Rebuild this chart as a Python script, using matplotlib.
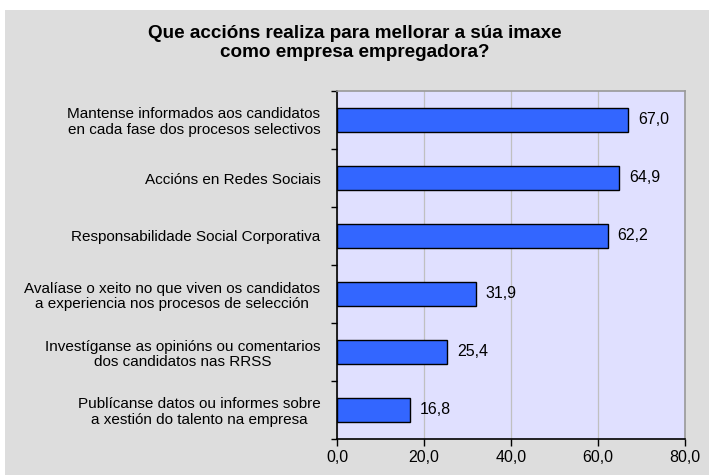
import matplotlib.pyplot as plt
from matplotlib.patches import Rectangle
from matplotlib.ticker import FuncFormatter, MultipleLocator

plt.rcParams["font.family"] = ["Liberation Sans", "DejaVu Sans"]

categories = [
    "Mantense informados aos candidatos\nen cada fase dos procesos selectivos",
    "Accións en Redes Sociais",
    "Responsabilidade Social Corporativa",
    "Avalíase o xeito no que viven os candidatos\na experiencia nos procesos de selección",
    "Investíganse as opinións ou comentarios\ndos candidatos nas RRSS",
    "Publícanse datos ou informes sobre\na xestión do talento na empresa",
]
values = [67.0, 64.9, 62.2, 31.9, 25.4, 16.8]
title = "Que accións realiza para mellorar a súa imaxe\ncomo empresa empregadora?"


def comma(v, _pos=None):
    return f"{v:.1f}".replace(".", ",")


fig = plt.figure(figsize=(7.09, 4.75), dpi=100, facecolor="white")
# grey chart area with a thin white strip on the top and left
fig.patches.append(Rectangle((5 / 709, 0), 1, 1 - 10 / 475, transform=fig.transFigure,
                             facecolor="#DDDDDD", edgecolor="none", zorder=-10))

ax = fig.add_axes([337 / 709, 1 - 439 / 475, 348 / 709, 348 / 475])
ax.set_facecolor("#E0E0FF")

pos = list(range(len(values)))
ax.barh(pos, values, height=0.4, color="#3366FF", edgecolor="black", linewidth=1.0, zorder=3)
for y, v in zip(pos, values):
    ax.text(v + 2.3, y, comma(v), va="center", ha="left", fontsize=11.5, color="black", zorder=4)

ax.set_xlim(0, 80)
ax.set_ylim(len(values) - 0.5, -0.5)
ax.xaxis.set_major_locator(MultipleLocator(20))
ax.xaxis.set_major_formatter(FuncFormatter(comma))
ax.grid(axis="x", color="#C0C0C0", linewidth=0.9, zorder=1)
ax.set_axisbelow(True)

# category ticks sit between bars, labels in the middle
ax.set_yticks([p - 0.5 for p in pos] + [len(values) - 0.5])
ax.set_yticklabels([])
ax.set_yticks(pos, minor=True)
ax.set_yticklabels(categories, minor=True, fontsize=11, multialignment="center",
                   linespacing=1.1)
ax.tick_params(axis="y", which="minor", length=0, pad=12)
ax.tick_params(axis="y", which="major", length=4, width=1.0, direction="out")
ax.tick_params(axis="x", length=5, width=1.0, labelsize=11.5, pad=3)

for side in ("left", "bottom"):
    ax.spines[side].set_color("black")
    ax.spines[side].set_linewidth(1.2)
for side in ("top", "right"):
    ax.spines[side].set_color("#999999")
    ax.spines[side].set_linewidth(1.2)

fig.text(0.5, 1 - 43 / 475, title, ha="center", va="center", fontsize=13.6,
         fontweight="bold", linespacing=1.15)

fig.savefig("out.png", dpi=100, facecolor=fig.get_facecolor())
